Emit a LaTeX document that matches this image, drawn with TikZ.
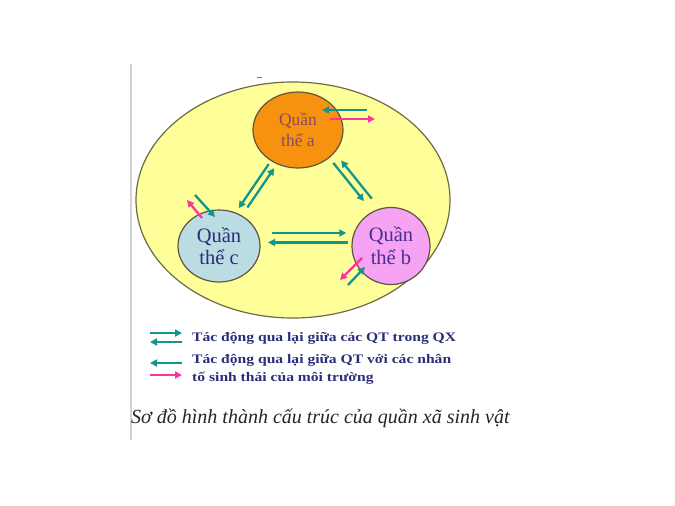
\documentclass[tikz,border=0pt]{standalone}
\usepackage{fontspec}
\setmainfont{Liberation Serif}
\usepackage{graphicx}
\usetikzlibrary{arrows.meta,calc,shapes.geometric}

\definecolor{vangnhat}{HTML}{FFFF99}
\definecolor{vienqx}{HTML}{6E6A45}
\definecolor{vienqt}{HTML}{5E5440}
\definecolor{cam}{HTML}{F7920F}
\definecolor{xanhnhat}{HTML}{BCDCE3}
\definecolor{tim}{HTML}{F5A3F2}
\definecolor{xanhluc}{HTML}{13968A}
\definecolor{hong}{HTML}{FF3399}
\definecolor{chuxanh}{HTML}{2A2E78}
\definecolor{chua}{HTML}{8A4B62}
\definecolor{chub}{HTML}{4A2F8F}

\begin{document}
\begin{tikzpicture}[x=1pt,y=-1pt,
  quanthe/.style={shape=ellipse, draw=vienqt, line width=1.2pt, inner sep=0pt, align=center},
  tuong/.style={draw=xanhluc, line width=2.3pt, -{Triangle[length=7pt,width=7pt]}},
  moitruong/.style={tuong, draw=hong},
  chuthich/.style={anchor=west, inner sep=0pt, text=chuxanh, font=\bfseries\fontsize{13}{16}\selectfont}]
\useasboundingbox[fill=white] (0,0) rectangle (675,506);

% le trang va vet do
\draw[gray!35, line width=2pt] (131,64) -- (131,440);
\draw[red!80, line width=1pt] (257,77) -- (262,77);

% quan xa va cac quan the
\path (293,200) node (QX) [shape=ellipse, minimum width=314pt, minimum height=236pt, draw=vienqx, fill=vangnhat, line width=1.2pt] {};
\path (298,130) node (QTa) [quanthe, fill=cam, minimum width=90pt, minimum height=76pt, text=chua, font=\fontsize{17.5}{21}\selectfont] {Quần\\thể a};
\path (219,246) node (QTc) [quanthe, fill=xanhnhat, minimum width=82pt, minimum height=72pt, text=chuxanh, font=\fontsize{20.5}{22}\selectfont] {Quần\\thể c};
\path (391,246) node (QTb) [quanthe, fill=tim, minimum width=78pt, minimum height=77pt, text=chub, font=\fontsize{20.5}{23}\selectfont] {Quần\\thể b};

% tac dong giua cac quan the
\draw[tuong] ($(QTa)!.32!(QTc)+(-4,-3)$) -- ($(QTa)!.70!(QTc)+(-4,-3)$);
\draw[tuong] ($(QTa)!.66!(QTc)+(1.5,1)$) -- ($(QTa)!.32!(QTc)+(1.5,1)$);
\draw[tuong] ($(QTa)!.32!(QTb)+(5.5,-4.3)$) -- ($(QTa)!.65!(QTb)+(5.5,-4.3)$);
\draw[tuong] ($(QTa)!.67!(QTb)+(11.5,-9)$) -- ($(QTa)!.34!(QTb)+(11.5,-9)$);
\draw[tuong] ($(QTc)!.31!(QTb)+(0,-13)$) -- ($(QTc)!.74!(QTb)+(0,-13)$);
\draw[tuong] ($(QTc)!.75!(QTb)+(0,-3.5)$) -- ($(QTc)!.285!(QTb)+(0,-3.5)$);

% tac dong voi moi truong
\draw[tuong] ($(QTa)+(69,-20)$) -- ($(QTa)+(24,-20)$);
\draw[moitruong] ($(QTa)+(32,-11)$) -- ($(QTa)+(77,-11)$);
\draw[tuong] ($(QTc)+(-24,-51)$) -- ($(QTc)+(-4,-29)$);
\draw[moitruong] ($(QTc)+(-17,-28)$) -- ($(QTc)+(-32,-46)$);
\draw[moitruong] ($(QTb)+(-29,12)$) -- ($(QTb)+(-51,34)$);
\draw[tuong] ($(QTb)+(-43,39)$) -- ($(QTb)+(-26,21)$);

% chu thich
\node (CT1) [chuthich] at (192,338) {\scalebox{1.2}[1]{Tác động qua lại giữa các QT trong QX}};
\node (CT2) [chuthich] at (192,360) {\scalebox{1.2}[1]{Tác động qua lại giữa QT với các nhân}};
\node (CT3) [chuthich] at (192,378) {\scalebox{1.2}[1]{tố sinh thái của môi trường}};
\draw[tuong] ($(CT1.west)+(-42,-5)$) -- ($(CT1.west)+(-10,-5)$);
\draw[tuong] ($(CT1.west)+(-10,4)$) -- ($(CT1.west)+(-42,4)$);
\draw[tuong] ($(CT2.west)+(-10,3)$) -- ($(CT2.west)+(-42,3)$);
\draw[moitruong] ($(CT3.west)+(-42,-3)$) -- ($(CT3.west)+(-10,-3)$);

\node (ten) [anchor=west, inner sep=0pt, font=\itshape\fontsize{20}{24}\selectfont, text=black!85] at (131,418) {Sơ đồ hình thành cấu trúc của quần xã sinh vật};

\end{tikzpicture}
\end{document}
